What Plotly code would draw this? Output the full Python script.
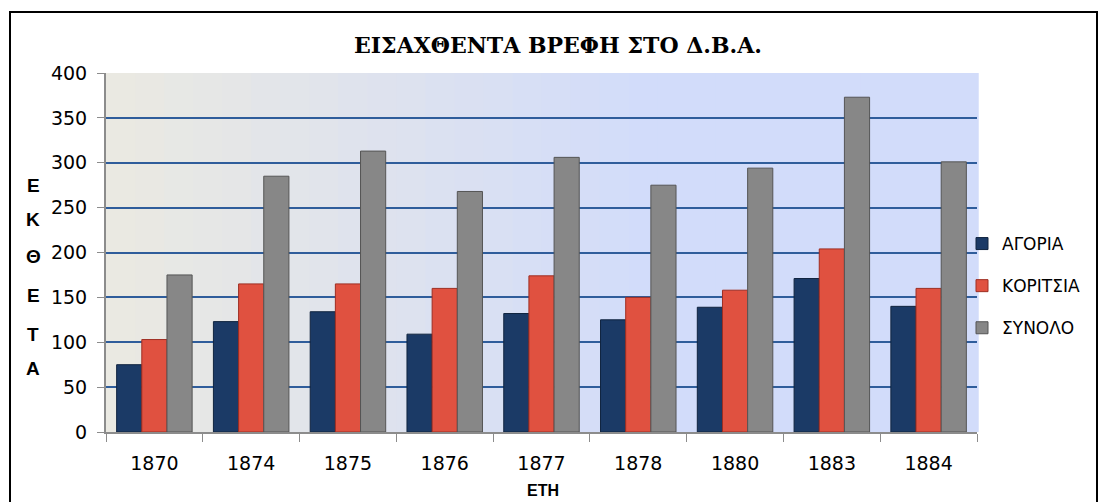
import plotly.graph_objects as go

years = ["1870", "1874", "1875", "1876", "1877", "1878", "1880", "1883", "1884"]
boys = [75, 123, 134, 109, 132, 125, 139, 171, 140]
girls = [103, 165, 165, 160, 174, 150, 158, 204, 160]
total = [175, 285, 313, 268, 306, 275, 294, 373, 301]

series = [
    ("ΑΓΟΡΙΑ", boys, "#1B3A66", "#10243F"),
    ("ΚΟΡΙΤΣΙΑ", girls, "#E05140", "#9E2E22"),
    ("ΣΥΝΟΛΟ", total, "#878787", "#555555"),
]

# page has an 8px body margin, so figure px = page px - 8
OFF = 8
W, H = 1107, 502
L, T = 106 - OFF, 73 - OFF
R = W - (977 - OFF)
B = H - (432 - OFF)
pw, ph = W - L - R, H - T - B


def px(x):  # page x -> paper
    return (x - OFF - L) / pw


def py(y):  # page y -> paper
    return (H - B - (y - OFF)) / ph


fig = go.Figure()
for i, (name, vals, col, edge) in enumerate(series):
    fig.add_trace(go.Bar(
        x=years, y=vals, name=name, legendgroup=str(i),
        marker=dict(color=col, line=dict(color=edge, width=1)),
    ))


def mix(c1, c2, t):
    a = [int(c1[k:k + 2], 16) for k in (1, 3, 5)]
    b = [int(c2[k:k + 2], 16) for k in (1, 3, 5)]
    return "rgb(%d,%d,%d)" % tuple(round(a[j] + (b[j] - a[j]) * t) for j in range(3))


# background gradient (beige -> light blue)
shapes = []
n = 30
for k in range(n):
    shapes.append(dict(
        type="rect", xref="x domain", yref="y domain",
        x0=k / n, x1=(k + 1) / n + 0.002, y0=0, y1=1,
        fillcolor=mix("#EAE9E2", "#D2DCFA", min(1, k / (n * 0.6))),
        line=dict(width=0), layer="below",
    ))
# outer frame
shapes.append(dict(
    type="rect", xref="paper", yref="paper",
    x0=px(10), x1=px(1097), y0=py(520), y1=py(12),
    line=dict(color="black", width=2), fillcolor="rgba(0,0,0,0)",
))

annotations = []
letters = ["Ε", "Κ", "Θ", "Ε", "Τ", "Α"]
ys = [185, 219, 256, 295, 334, 368]
for ch, yy in zip(letters, ys):
    annotations.append(dict(
        text="<b>%s</b>" % ch, xref="paper", yref="paper",
        x=px(33), y=py(yy), xanchor="center", yanchor="middle", showarrow=False,
        font=dict(family="Liberation Sans, Arial, sans-serif", size=19, color="black"),
    ))
annotations.append(dict(
    text="<b>ΕΤΗ</b>", xref="paper", yref="paper",
    x=px(543), y=py(490), xanchor="center", yanchor="middle", showarrow=False,
    font=dict(family="Liberation Sans, Arial, sans-serif", size=16, color="black"),
))

fig.update_layout(
    width=W, height=H,
    margin=dict(l=L, r=R, t=T, b=B),
    paper_bgcolor="white", plot_bgcolor="#DDE3F2",
    barmode="group", bargap=0.22, bargroupgap=0,
    title=dict(
        text="<b>ΕΙΣΑΧΘΕΝΤΑ ΒΡΕΦΗ ΣΤΟ Δ.Β.Α.</b>",
        x=px(558), xref="paper", xanchor="center",
        y=1 - (45 - OFF) / H, yanchor="middle",
        font=dict(family="DejaVu Serif, Liberation Serif, serif", size=22, color="black"),
    ),
    font=dict(family="DejaVu Sans, sans-serif", size=19, color="black"),
    legend=dict(
        x=px(962), y=py(286), xanchor="left", yanchor="middle",
        traceorder="grouped", tracegroupgap=17,
        font=dict(size=17), bgcolor="rgba(0,0,0,0)",
        itemwidth=30,
    ),
    shapes=shapes,
    annotations=annotations,
)
fig.update_yaxes(
    range=[0, 400], dtick=50,
    showgrid=True, gridcolor="#2F5D9B", gridwidth=2,
    zeroline=False,
    showline=True, linecolor="#8C8C8C", linewidth=2,
    ticks="outside", ticklen=7, tickcolor="#8C8C8C", tickwidth=1,
    ticklabelstandoff=6,
)
fig.update_xaxes(
    showline=True, linecolor="#8C8C8C", linewidth=2,
    ticks="outside", tickson="boundaries", ticklen=8, tickcolor="#8C8C8C",
    ticklabelstandoff=13,
)

fig.write_html("out.html")
